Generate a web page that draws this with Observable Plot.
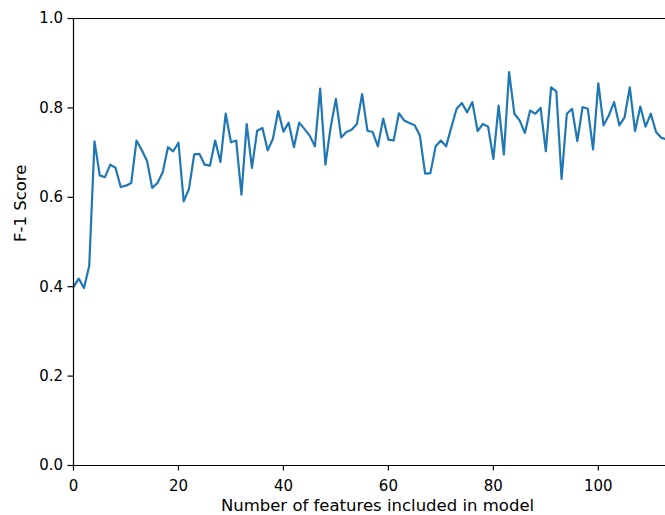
<!DOCTYPE html>
<html>
<head>
<meta charset="utf-8">
<script src="https://cdn.jsdelivr.net/npm/d3@7"></script>
<script src="https://cdn.jsdelivr.net/npm/@observablehq/plot@0.6"></script>
<style>
  html, body { margin: 0; padding: 0; background: #fff; overflow: hidden; }
  svg { display: block; }
</style>
</head>
<body>
<div id="chart"></div>
<script>
const featureCounts = d3.range(0, 114);
const f1Scores = [
  0.399, 0.418, 0.397, 0.447, 0.725, 0.649, 0.645, 0.673, 0.666, 0.623,
  0.626, 0.632, 0.727, 0.706, 0.682, 0.621, 0.632, 0.656, 0.712, 0.703,
  0.722, 0.591, 0.619, 0.696, 0.697, 0.673, 0.671, 0.727, 0.679, 0.787,
  0.723, 0.727, 0.606, 0.764, 0.666, 0.749, 0.755, 0.705, 0.731, 0.793,
  0.747, 0.767, 0.712, 0.767, 0.753, 0.738, 0.714, 0.843, 0.673, 0.757,
  0.820, 0.734, 0.746, 0.751, 0.764, 0.831, 0.749, 0.746, 0.714, 0.776,
  0.729, 0.727, 0.788, 0.772, 0.766, 0.761, 0.738, 0.653, 0.654, 0.714,
  0.727, 0.714, 0.757, 0.798, 0.811, 0.790, 0.813, 0.748, 0.764, 0.758,
  0.686, 0.805, 0.696, 0.880, 0.787, 0.772, 0.744, 0.794, 0.787, 0.800,
  0.703, 0.846, 0.837, 0.641, 0.787, 0.798, 0.726, 0.802, 0.798, 0.707,
  0.855, 0.761, 0.783, 0.813, 0.761, 0.779, 0.846, 0.748, 0.803, 0.758,
  0.787, 0.746, 0.733, 0.730
];
const xTicks = [0, 20, 40, 60, 80, 100];
const yTicks = [0, 0.2, 0.4, 0.6, 0.8, 1.0];
const xLabel = "Number of features included in model";
const yLabel = "F-1 Score";

const data = featureCounts.map((n, i) => ({n, f1: f1Scores[i]}));

const chart = Plot.plot({
  width: 665,
  height: 515,
  marginLeft: 73,
  marginRight: 0,
  marginTop: 18,
  marginBottom: 50,
  style: {fontFamily: "DejaVu Sans", fontSize: "15px", color: "#000", background: "#fff"},
  x: {domain: [0, 112.8]},
  y: {domain: [0, 1]},
  marks: [
    Plot.line(data, {x: "n", y: "f1", stroke: "#1f77b4", strokeWidth: 2.2, clip: true}),
    Plot.ruleY([0, 1], {stroke: "#000", strokeWidth: 1.2}),
    Plot.ruleX([0], {stroke: "#000", strokeWidth: 1.2}),
    Plot.axisX({ticks: xTicks, tickSize: 5.5, tickPadding: 9, label: null, tickFormat: d3.format("d"), strokeWidth: 1.2}),
    Plot.axisY({ticks: yTicks, tickSize: 5.5, tickPadding: 5, label: null, tickFormat: d3.format(".1f"), strokeWidth: 1.2}),
    Plot.text([xLabel], {frameAnchor: "bottom", dy: 45, dx: 8, fontSize: 16.5, fill: "#000"}),
    Plot.text([yLabel], {frameAnchor: "left", dx: -53, rotate: -90, fontSize: 16.5, fill: "#000"})
  ]
});
document.getElementById("chart").appendChild(chart);
</script>
</body>
</html>
